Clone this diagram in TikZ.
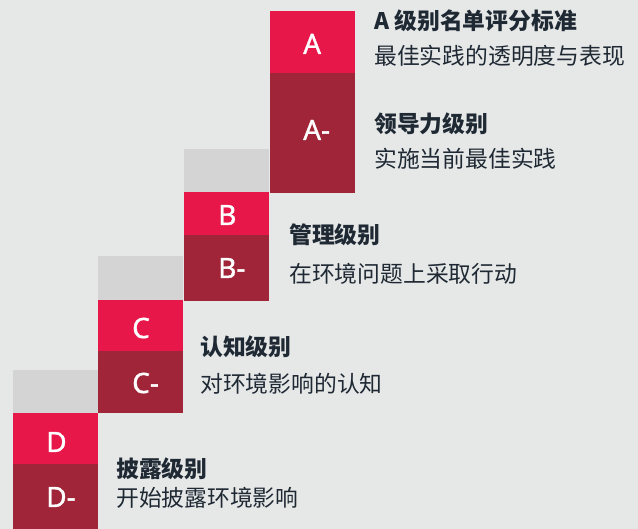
\documentclass[tikz,border=0pt]{standalone}
\usepackage{fontspec}
\setmainfont{Noto Sans}
\newfontfamily\cjk{Noto Sans CJK SC}
\newfontfamily\gradefont{Noto Sans}[FakeBold=1.2]
\definecolor{BackGray}{HTML}{E6E8E8}
\definecolor{ShadeGray}{HTML}{D4D4D4}
\definecolor{TopRed}{HTML}{E8174A}
\definecolor{LowRed}{HTML}{A02538}
\definecolor{InkDark}{HTML}{1F2933}
\tikzset{
  BlockStyle/.style = { rectangle, inner sep = 0pt, anchor = north west,
                       minimum width = 85pt },
  ShadeStyle/.style = { BlockStyle, fill = ShadeGray },
  TopStyle/.style = { BlockStyle, fill = TopRed },
  LowStyle/.style = { BlockStyle, fill = LowRed },
  GradeStyle/.style = { anchor = base west, inner sep = 0pt, text = white,
                       font = \gradefont\fontsize{28}{30}\selectfont },
  HeadStyle/.style = { anchor = base west, inner sep = 0pt, text = InkDark,
                      font = \cjk\bfseries\fontsize{22.8}{26}\selectfont },
  TextStyle/.style = { anchor = base west, inner sep = 0pt, text = InkDark,
                      font = \cjk\fontsize{22.8}{26}\selectfont } }

\begin{document}
\begin{tikzpicture}[x=1pt,y=-1pt]
  \useasboundingbox (0,0) rectangle (638,529);
  \fill[BackGray] (0,0) rectangle (638,529);

  \node[ShadeStyle, minimum height = 43pt] (dshade) at (13,370) {};
  \node[TopStyle, minimum height = 51pt] (dtop) at (13,413) {};
  \node[LowStyle, minimum height = 65pt] (dlow) at (13,464) {};

  \node[ShadeStyle, minimum height = 44pt] (cshade) at (98,256) {};
  \node[TopStyle, minimum height = 51pt] (ctop) at (98,300) {};
  \node[LowStyle, minimum height = 62pt] (clow) at (98,351) {};

  \node[ShadeStyle, minimum height = 43pt] (bshade) at (184,149) {};
  \node[TopStyle, minimum height = 43pt] (btop) at (184,192) {};
  \node[LowStyle, minimum height = 66pt] (blow) at (184,235) {};

  \node[TopStyle, minimum height = 62pt] (atop) at (270,11) {};
  \node[LowStyle, minimum height = 120pt] (alow) at (270,73) {};

  \node[GradeStyle] (dgrade) at (46,452) {D};
  \node[GradeStyle] (dminus) at (46,507) {D-};
  \node[GradeStyle] (cgrade) at (132,338) {C};
  \node[GradeStyle] (cminus) at (132,393) {C-};
  \node[GradeStyle] (bgrade) at (218,225) {B};
  \node[GradeStyle] (bminus) at (218,278) {B-};
  \node[GradeStyle] (agrade) at (303,54) {A};
  \node[GradeStyle] (aminus) at (303,140) {A-};

  \node[HeadStyle] (dhead) at (116,478) {披露级别};
  \node[TextStyle] (dtext) at (116,507) {开始披露环境影响};
  \node[HeadStyle] (chead) at (200,356) {认知级别};
  \node[TextStyle] (ctext) at (200,393) {对环境影响的认知};
  \node[HeadStyle] (bhead) at (289,244) {管理级别};
  \node[TextStyle] (btext) at (289,283) {在环境问题上采取行动};
  \node[HeadStyle] (ahead) at (374,30) {A 级别名单评分标准};
  \node[TextStyle] (atext) at (374,65) {最佳实践的透明度与表现};
  \node[HeadStyle] (aminushead) at (374,133) {领导力级别};
  \node[TextStyle] (aminustext) at (374,168) {实施当前最佳实践};
\end{tikzpicture}
\end{document}
